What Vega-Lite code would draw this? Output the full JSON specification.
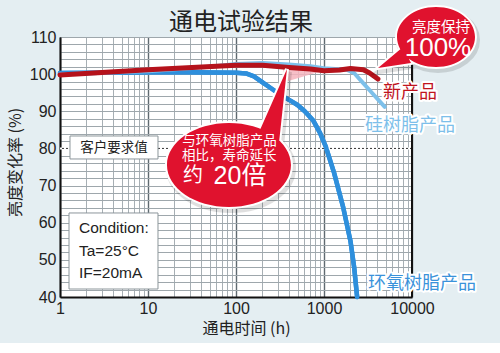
{
  "$schema": "https://vega.github.io/schema/vega-lite/v6.json",
  "width": 352,
  "height": 260,
  "autosize": {"type": "none"},
  "padding": {"left": 60, "top": 37, "right": 88, "bottom": 46},
  "background": "#e4eef2",
  "config": {"view": {"fill": "white", "stroke": "#333", "strokeWidth": 1}, "font": "Liberation Sans"},
  "datasets": {
    "lines": [
      {"series": "环氧树脂产品", "h": 1, "pct": 100.3},
      {"series": "环氧树脂产品", "h": 3, "pct": 100.4},
      {"series": "环氧树脂产品", "h": 10, "pct": 100.5},
      {"series": "环氧树脂产品", "h": 30, "pct": 100.5},
      {"series": "环氧树脂产品", "h": 100, "pct": 100.4},
      {"series": "环氧树脂产品", "h": 130, "pct": 100.2},
      {"series": "环氧树脂产品", "h": 160, "pct": 99.4},
      {"series": "环氧树脂产品", "h": 200, "pct": 97.8},
      {"series": "环氧树脂产品", "h": 250, "pct": 96.2},
      {"series": "环氧树脂产品", "h": 320, "pct": 94.4},
      {"series": "环氧树脂产品", "h": 420, "pct": 92.8},
      {"series": "环氧树脂产品", "h": 500, "pct": 91.7},
      {"series": "环氧树脂产品", "h": 600, "pct": 90.1},
      {"series": "环氧树脂产品", "h": 750, "pct": 87.6},
      {"series": "环氧树脂产品", "h": 900, "pct": 84.2},
      {"series": "环氧树脂产品", "h": 1050, "pct": 80.4},
      {"series": "环氧树脂产品", "h": 1300, "pct": 73.5},
      {"series": "环氧树脂产品", "h": 1650, "pct": 64.2},
      {"series": "环氧树脂产品", "h": 2000, "pct": 55},
      {"series": "环氧树脂产品", "h": 2200, "pct": 48},
      {"series": "环氧树脂产品", "h": 2380, "pct": 40},
      {"series": "硅树脂产品", "h": 1, "pct": 100},
      {"series": "硅树脂产品", "h": 10, "pct": 100.8},
      {"series": "硅树脂产品", "h": 50, "pct": 102},
      {"series": "硅树脂产品", "h": 100, "pct": 102.7},
      {"series": "硅树脂产品", "h": 200, "pct": 103},
      {"series": "硅树脂产品", "h": 400, "pct": 102.6},
      {"series": "硅树脂产品", "h": 700, "pct": 102.1},
      {"series": "硅树脂产品", "h": 1000, "pct": 101.6},
      {"series": "硅树脂产品", "h": 1800, "pct": 101.2},
      {"series": "硅树脂产品", "h": 2200, "pct": 100.3},
      {"series": "硅树脂产品", "h": 2600, "pct": 98.4},
      {"series": "硅树脂产品", "h": 3500, "pct": 95},
      {"series": "硅树脂产品", "h": 4900, "pct": 91.2},
      {"series": "新产品", "h": 1, "pct": 99.8},
      {"series": "新产品", "h": 10, "pct": 101.2},
      {"series": "新产品", "h": 100, "pct": 102.4},
      {"series": "新产品", "h": 200, "pct": 102.4},
      {"series": "新产品", "h": 400, "pct": 101.8},
      {"series": "新产品", "h": 700, "pct": 101.4},
      {"series": "新产品", "h": 1000, "pct": 100.9},
      {"series": "新产品", "h": 1500, "pct": 101.1},
      {"series": "新产品", "h": 2000, "pct": 101.5},
      {"series": "新产品", "h": 2800, "pct": 101.2},
      {"series": "新产品", "h": 3300, "pct": 100.3},
      {"series": "新产品", "h": 4100, "pct": 98.7}
    ]
  },
  "layer": [
    {
      "data": {"name": "lines"},
      "transform": [{"filter": "datum.series === '环氧树脂产品'"}],
      "mark": {"type": "line", "color": "#2e8fdc", "strokeWidth": 4.5, "strokeJoin": "round", "strokeCap": "round"},
      "encoding": {
        "x": {
          "field": "h", "type": "quantitative",
          "scale": {"type": "log", "domain": [1, 10000]},
          "axis": {
            "title": "通电时间 (h)",
            "values": [1,2,3,4,5,6,7,8,9,10,20,30,40,50,60,70,80,90,100,200,300,400,500,600,700,800,900,1000,2000,3000,4000,5000,6000,7000,8000,9000,10000],
            "labelExpr": "indexof([1,10,100,1000,10000], datum.value) >= 0 ? format(datum.value, 'd') : ''",
            "labelOverlap": false, "labelBound": false, "labelFlush": false,
            "labelFont": "Liberation Sans", "labelFontSize": 16, "labelColor": "#222", "labelPadding": 3,
            "ticks": false, "domainColor": "#111", "domainWidth": 2,
            "grid": true,
            "gridColor": {"condition": {"test": "indexof([1,10,100,1000,10000], datum.value) >= 0", "value": "#5f6a70"}, "value": "#a7afb4"},
            "gridWidth": {"condition": {"test": "indexof([1,10,100,1000,10000], datum.value) >= 0", "value": 1.4}, "value": 1},
            "titleFont": "Noto Sans CJK SC", "titleFontSize": 16, "titleFontWeight": "normal", "titleColor": "#222",
            "titleX": 186, "titleY": 31, "titleBaseline": "middle", "titleAlign": "center"
          }
        },
        "y": {
          "field": "pct", "type": "quantitative",
          "scale": {"domain": [40, 110], "nice": false, "zero": false},
          "axis": {
            "title": "亮度变化率 (%)",
            "tickCount": 35,
            "labelExpr": "datum.value % 10 === 0 ? format(datum.value, 'd') : ''",
            "labelOverlap": false, "labelBound": false, "labelFlush": false,
            "labelFont": "Liberation Sans", "labelFontSize": 16, "labelColor": "#222", "labelPadding": 4,
            "ticks": false, "domainColor": "#111", "domainWidth": 2,
            "grid": true, "gridColor": "#9ea7ac",
            "titleFont": "Noto Sans CJK SC", "titleFontSize": 16, "titleFontWeight": "normal", "titleColor": "#222",
            "titleX": -45, "titleY": 125, "titleBaseline": "middle", "titleAlign": "center", "titleAngle": -90
          }
        }
      }
    },
    {
      "data": {"values": [{}]},
      "mark": {"type": "text", "text": "通电试验结果", "font": "Noto Sans CJK SC", "fontSize": 24, "color": "#222", "align": "center", "baseline": "alphabetic"},
      "encoding": {"x": {"datum": 114, "type": "quantitative"}, "y": {"datum": 111.9, "type": "quantitative"}}
    },
    {
      "data": {"values": [{}]},
      "mark": {"type": "point", "shape": "M54,-97 L93,-94 L56,-83 Z", "size": 4, "filled": true, "fill": "#f4b4bd", "strokeWidth": 0, "opacity": 0.85},
      "encoding": {"x": {"datum": 83.2, "type": "quantitative"}, "y": {"datum": 75.54, "type": "quantitative"}}
    },
    {
      "data": {"values": [{}]},
      "mark": {"type": "rule", "color": "white", "strokeWidth": 2},
      "encoding": {"y": {"datum": 80, "type": "quantitative"}}
    },
    {
      "data": {"values": [{}]},
      "mark": {"type": "rule", "color": "#333", "strokeWidth": 1, "strokeDash": [2, 2]},
      "encoding": {"y": {"datum": 80, "type": "quantitative"}}
    },
    {
      "data": {"values": [{}]},
      "mark": {"type": "rect", "fill": "white", "stroke": "#8c969b", "strokeWidth": 1},
      "encoding": {
        "x": {"datum": 1.299, "type": "quantitative"}, "x2": {"datum": 12.99},
        "y": {"datum": 83.35, "type": "quantitative"}, "y2": {"datum": 77.16}
      }
    },
    {
      "data": {"values": [{}]},
      "mark": {"type": "rect", "fill": "white", "stroke": "#8c969b", "strokeWidth": 1},
      "encoding": {
        "x": {"datum": 1.266, "type": "quantitative"}, "x2": {"datum": 12.99},
        "y": {"datum": 62.62, "type": "quantitative"}, "y2": {"datum": 42.15}
      }
    },
    {
      "data": {"name": "lines"},
      "transform": [{"filter": "datum.series === '环氧树脂产品'"}],
      "mark": {"type": "line", "color": "#2e8fdc", "strokeWidth": 4.5, "strokeJoin": "round", "strokeCap": "round"},
      "encoding": {"x": {"field": "h", "type": "quantitative"}, "y": {"field": "pct", "type": "quantitative"}}
    },
    {
      "data": {"name": "lines"},
      "transform": [{"filter": "datum.series === '硅树脂产品'"}],
      "mark": {"type": "line", "color": "#7dc0ea", "strokeWidth": 4, "strokeJoin": "round", "strokeCap": "round"},
      "encoding": {"x": {"field": "h", "type": "quantitative"}, "y": {"field": "pct", "type": "quantitative"}}
    },
    {
      "data": {"name": "lines"},
      "transform": [{"filter": "datum.series === '新产品'"}],
      "mark": {"type": "line", "color": "#b5121b", "strokeWidth": 5, "strokeJoin": "round", "strokeCap": "round"},
      "encoding": {"x": {"field": "h", "type": "quantitative"}, "y": {"field": "pct", "type": "quantitative"}}
    },
    {
      "data": {"values": [{}]},
      "mark": {"type": "rule", "color": "#111", "strokeWidth": 2},
      "encoding": {"x": {"datum": 10000, "type": "quantitative"}}
    },
    {
      "data": {"values": [{}]},
      "mark": {"type": "point", "shape": "M39,0 C39,16.57 21.54,30 0,30 C-21.54,30 -39,16.57 -39,0 C-39,-16.57 -21.54,-30 0,-30 C21.54,-30 39,-16.57 39,0 Z M-33,10 L-25,26 L-58,31 Z", "size": 4, "filled": true, "fill": "#000", "stroke": "#000", "strokeWidth": 6, "opacity": 0.12, "xOffset": 2, "yOffset": 3},
      "encoding": {"x": {"datum": 18740, "type": "quantitative"}, "y": {"datum": 110, "type": "quantitative"}}
    },
    {
      "data": {"values": [{}]},
      "mark": {"type": "point", "shape": "M39,0 C39,16.57 21.54,30 0,30 C-21.54,30 -39,16.57 -39,0 C-39,-16.57 -21.54,-30 0,-30 C21.54,-30 39,-16.57 39,0 Z M-33,10 L-25,26 L-58,31 Z", "size": 4, "filled": true, "fill": "white", "stroke": "white", "strokeWidth": 4, "opacity": 1},
      "encoding": {"x": {"datum": 18740, "type": "quantitative"}, "y": {"datum": 110, "type": "quantitative"}}
    },
    {
      "data": {"values": [{}]},
      "mark": {"type": "point", "shape": "M39,0 C39,16.57 21.54,30 0,30 C-21.54,30 -39,16.57 -39,0 C-39,-16.57 -21.54,-30 0,-30 C21.54,-30 39,-16.57 39,0 Z M-33,10 L-25,26 L-58,31 Z", "size": 4, "filled": true, "fill": "#e0122e", "strokeWidth": 0, "opacity": 1},
      "encoding": {"x": {"datum": 18740, "type": "quantitative"}, "y": {"datum": 110, "type": "quantitative"}}
    },
    {
      "data": {"values": [{}]},
      "mark": {"type": "point", "shape": "M62,0 C62,23.2 34.24,42 0,42 C-34.24,42 -62,23.2 -62,0 C-62,-23.2 -34.24,-42 0,-42 C34.24,-42 62,-23.2 62,0 Z M31,-35 L58,-96 L50,-22 Z", "size": 4, "filled": true, "fill": "#000", "stroke": "#000", "strokeWidth": 6, "opacity": 0.12, "xOffset": 2, "yOffset": 3},
      "encoding": {"x": {"datum": 83.2, "type": "quantitative"}, "y": {"datum": 75.54, "type": "quantitative"}}
    },
    {
      "data": {"values": [{}]},
      "mark": {"type": "point", "shape": "M62,0 C62,23.2 34.24,42 0,42 C-34.24,42 -62,23.2 -62,0 C-62,-23.2 -34.24,-42 0,-42 C34.24,-42 62,-23.2 62,0 Z M31,-35 L58,-96 L50,-22 Z", "size": 4, "filled": true, "fill": "white", "stroke": "white", "strokeWidth": 4, "opacity": 1},
      "encoding": {"x": {"datum": 83.2, "type": "quantitative"}, "y": {"datum": 75.54, "type": "quantitative"}}
    },
    {
      "data": {"values": [{}]},
      "mark": {"type": "point", "shape": "M62,0 C62,23.2 34.24,42 0,42 C-34.24,42 -62,23.2 -62,0 C-62,-23.2 -34.24,-42 0,-42 C34.24,-42 62,-23.2 62,0 Z M31,-35 L58,-96 L50,-22 Z", "size": 4, "filled": true, "fill": "#e0122e", "strokeWidth": 0, "opacity": 1},
      "encoding": {"x": {"datum": 83.2, "type": "quantitative"}, "y": {"datum": 75.54, "type": "quantitative"}}
    },
    {
      "data": {"values": [{}]},
      "mark": {"type": "text", "text": "亮度保持", "font": "Noto Sans CJK SC", "fontSize": 14.5, "color": "white", "align": "center", "baseline": "middle"},
      "encoding": {"x": {"datum": 21300, "type": "quantitative"}, "y": {"datum": 112.4, "type": "quantitative"}}
    },
    {
      "data": {"values": [{}]},
      "mark": {"type": "text", "text": "100%", "font": "Liberation Sans", "fontSize": 26, "color": "white", "align": "center", "baseline": "middle"},
      "encoding": {"x": {"datum": 19740, "type": "quantitative"}, "y": {"datum": 107.0, "type": "quantitative"}}
    },
    {
      "data": {"values": [{}]},
      "mark": {"type": "text", "text": "与环氧树脂产品", "font": "Noto Sans CJK SC", "fontSize": 13.5, "color": "white", "align": "center", "baseline": "middle"},
      "encoding": {"x": {"datum": 84.4, "type": "quantitative"}, "y": {"datum": 82.0, "type": "quantitative"}}
    },
    {
      "data": {"values": [{}]},
      "mark": {"type": "text", "text": "相比，寿命延长", "font": "Noto Sans CJK SC", "fontSize": 13.5, "color": "white", "align": "center", "baseline": "middle"},
      "encoding": {"x": {"datum": 84.0, "type": "quantitative"}, "y": {"datum": 77.96, "type": "quantitative"}}
    },
    {
      "data": {"values": [{}]},
      "mark": {"type": "text", "text": "约", "font": "Noto Sans CJK SC", "fontSize": 20, "color": "white", "align": "center", "baseline": "middle"},
      "encoding": {"x": {"datum": 32.5, "type": "quantitative"}, "y": {"datum": 72.6, "type": "quantitative"}}
    },
    {
      "data": {"values": [{}]},
      "mark": {"type": "text", "text": "20倍", "font": "Liberation Sans, Noto Sans CJK SC", "fontSize": 25, "color": "white", "align": "center", "baseline": "middle"},
      "encoding": {"x": {"datum": 111, "type": "quantitative"}, "y": {"datum": 72.6, "type": "quantitative"}}
    },
    {
      "data": {"values": [{}]},
      "mark": {"type": "text", "text": "客户要求值", "font": "Noto Sans CJK SC", "fontSize": 13.5, "color": "#222", "align": "center", "baseline": "middle"},
      "encoding": {"x": {"datum": 4.11, "type": "quantitative"}, "y": {"datum": 80.1, "type": "quantitative"}}
    },
    {
      "data": {"values": [{}]},
      "mark": {"type": "text", "text": "Condition:", "font": "Liberation Sans", "fontSize": 15.5, "color": "#222", "align": "left", "baseline": "middle"},
      "encoding": {"x": {"datum": 1.644, "type": "quantitative"}, "y": {"datum": 58.58, "type": "quantitative"}}
    },
    {
      "data": {"values": [{}]},
      "mark": {"type": "text", "text": "Ta=25°C", "font": "Liberation Sans", "fontSize": 15.5, "color": "#222", "align": "left", "baseline": "middle"},
      "encoding": {"x": {"datum": 1.644, "type": "quantitative"}, "y": {"datum": 52.39, "type": "quantitative"}}
    },
    {
      "data": {"values": [{}]},
      "mark": {"type": "text", "text": "IF=20mA", "font": "Liberation Sans", "fontSize": 15.5, "color": "#222", "align": "left", "baseline": "middle"},
      "encoding": {"x": {"datum": 1.644, "type": "quantitative"}, "y": {"datum": 46.46, "type": "quantitative"}}
    },
    {
      "data": {"values": [{}]},
      "mark": {"type": "text", "text": "新产品", "font": "Noto Sans CJK SC", "fontSize": 18, "fill": "white", "stroke": "white", "strokeWidth": 4, "strokeJoin": "round", "align": "center", "baseline": "middle"},
      "encoding": {"x": {"datum": 9490, "type": "quantitative"}, "y": {"datum": 94.9, "type": "quantitative"}}
    },
    {
      "data": {"values": [{}]},
      "mark": {"type": "text", "text": "新产品", "font": "Noto Sans CJK SC", "fontSize": 18, "color": "#c0141e", "align": "center", "baseline": "middle"},
      "encoding": {"x": {"datum": 9490, "type": "quantitative"}, "y": {"datum": 94.9, "type": "quantitative"}}
    },
    {
      "data": {"values": [{}]},
      "mark": {"type": "text", "text": "硅树脂产品", "font": "Noto Sans CJK SC", "fontSize": 18, "fill": "white", "stroke": "white", "strokeWidth": 4, "strokeJoin": "round", "align": "center", "baseline": "middle"},
      "encoding": {"x": {"datum": 9490, "type": "quantitative"}, "y": {"datum": 86.0, "type": "quantitative"}}
    },
    {
      "data": {"values": [{}]},
      "mark": {"type": "text", "text": "硅树脂产品", "font": "Noto Sans CJK SC", "fontSize": 18, "color": "#7dbfea", "align": "center", "baseline": "middle"},
      "encoding": {"x": {"datum": 9490, "type": "quantitative"}, "y": {"datum": 86.0, "type": "quantitative"}}
    },
    {
      "data": {"values": [{}]},
      "mark": {"type": "text", "text": "环氧树脂产品", "font": "Noto Sans CJK SC", "fontSize": 18, "fill": "white", "stroke": "white", "strokeWidth": 4, "strokeJoin": "round", "align": "center", "baseline": "middle"},
      "encoding": {"x": {"datum": 13000, "type": "quantitative"}, "y": {"datum": 43.5, "type": "quantitative"}}
    },
    {
      "data": {"values": [{}]},
      "mark": {"type": "text", "text": "环氧树脂产品", "font": "Noto Sans CJK SC", "fontSize": 18, "color": "#3a92da", "align": "center", "baseline": "middle"},
      "encoding": {"x": {"datum": 13000, "type": "quantitative"}, "y": {"datum": 43.5, "type": "quantitative"}}
    }
  ]
}
